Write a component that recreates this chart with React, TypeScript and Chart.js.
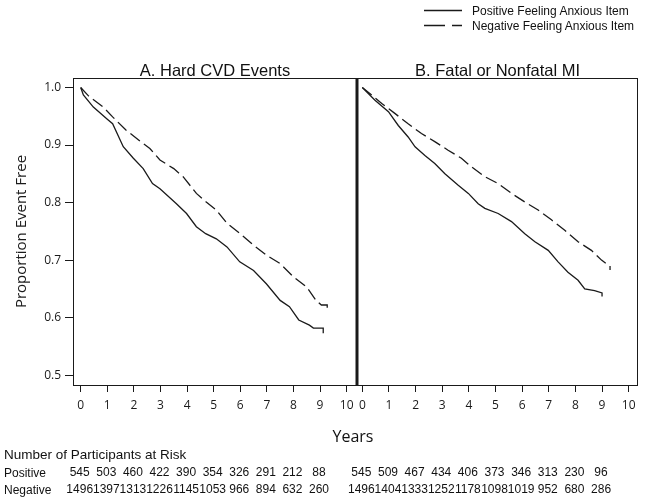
import React, { useEffect, useRef } from "react";
import { Chart, registerables } from "chart.js";
Chart.register(...registerables);

// ---------- data ----------
const years = [0, 1, 2, 3, 4, 5, 6, 7, 8, 9, 10];
const yTicks = [0.5, 0.6, 0.7, 0.8, 0.9, 1.0];
const riskYears = [0, 1, 2, 3, 4, 5, 6, 7, 8, 9];

// Panel A: Hard CVD Events
const hardPosT = [0, 0.1, 0.475, 1.0, 1.2, 1.6, 1.98, 2.35, 2.7, 2.98, 3.6, 3.98, 4.35, 4.7, 5.1, 5.5, 5.98, 6.5, 6.98, 7.5, 7.85, 8.2, 8.6, 8.75, 9.12, 9.12];
const hardPosS = [1.0, 0.987, 0.966, 0.945, 0.937, 0.897, 0.877, 0.859, 0.833, 0.824, 0.798, 0.781, 0.758, 0.746, 0.737, 0.723, 0.697, 0.682, 0.659, 0.630, 0.619, 0.596, 0.587, 0.582, 0.582, 0.573];
const hardNegT = [0, 0.3, 0.85, 1.2, 1.7, 2.2, 2.6, 2.98, 3.5, 3.85, 4.35, 4.72, 5.1, 5.5, 6.0, 6.5, 7.0, 7.5, 8.0, 8.5, 8.85, 9.05, 9.27, 9.27];
const hardNegS = [1.0, 0.985, 0.966, 0.949, 0.926, 0.908, 0.894, 0.874, 0.859, 0.845, 0.816, 0.801, 0.787, 0.764, 0.746, 0.726, 0.708, 0.694, 0.671, 0.653, 0.630, 0.622, 0.622, 0.610];

// Panel B: Fatal or Nonfatal MI
const miPosT = [0, 0.475, 0.98, 1.35, 1.72, 1.98, 2.35, 2.72, 3.1, 3.6, 3.98, 4.35, 4.6, 5.1, 5.6, 6.1, 6.48, 6.98, 7.35, 7.72, 8.1, 8.35, 8.72, 9.0, 9.0];
const miPosS = [1.0, 0.978, 0.958, 0.934, 0.914, 0.897, 0.882, 0.868, 0.850, 0.830, 0.816, 0.798, 0.790, 0.781, 0.767, 0.746, 0.732, 0.717, 0.697, 0.679, 0.665, 0.650, 0.647, 0.643, 0.637];
const miNegT = [0, 0.35, 0.73, 1.22, 1.72, 2.22, 2.72, 3.22, 3.72, 4.1, 4.6, 5.1, 5.6, 6.1, 6.6, 7.1, 7.6, 8.1, 8.6, 8.98, 9.15, 9.3, 9.3];
const miNegS = [1.0, 0.987, 0.972, 0.955, 0.937, 0.920, 0.906, 0.891, 0.877, 0.862, 0.845, 0.833, 0.816, 0.801, 0.787, 0.770, 0.752, 0.732, 0.717, 0.700, 0.694, 0.690, 0.683];

// Numbers at risk
const hardRiskPos = [545, 503, 460, 422, 390, 354, 326, 291, 212, 88];
const hardRiskNeg = [1496, 1397, 1313, 1226, 1145, 1053, 966, 894, 632, 260];
const miRiskPos = [545, 509, 467, 434, 406, 373, 346, 313, 230, 96];
const miRiskNeg = [1496, 1404, 1333, 1252, 1178, 1098, 1019, 952, 680, 286];

const panelTitles = ["A. Hard CVD Events", "B. Fatal or Nonfatal MI"];
const legendLabels = ["Positive Feeling Anxious Item", "Negative Feeling Anxious Item"];

// ---------- layout ----------
const W = 645;
const H = 499;
const TOP = 78;
const BOTTOM = 385;
const A_LEFT = 73;
const MID = 357;
const B_RIGHT = 638;
const Y_MIN = 0.483;
const Y_MAX = 1.0165;

const INK = "#1a1a1a";
const TICK_FONT = { family: '"Open Sans", sans-serif', size: 12 };

const toPts = (t: number[], s: number[]) => t.map((x, i) => ({ x, y: s[i] }));

function makeConfig(isA: boolean, posT: number[], posS: number[], negT: number[], negS: number[], riskPos: number[], riskNeg: number[]): any {
  const framePlugin = {
    id: "frame",
    afterDatasetsDraw(chart: any) {
      const { left, right, top, bottom } = chart.chartArea;
      const ctx = chart.ctx;
      ctx.save();
      ctx.strokeStyle = INK;
      ctx.lineWidth = 1;
      ctx.strokeRect(left + 0.5, top + 0.5, right - left - 1, bottom - top);
      if (isA) {
        ctx.fillStyle = INK;
        ctx.fillRect(right - 1.5, top, 3, bottom - top + 1);
      }
      ctx.restore();
    },
  };
  const riskPlugin = {
    id: "risk",
    afterDraw(chart: any) {
      const xs = chart.scales.x;
      const ctx = chart.ctx;
      ctx.save();
      ctx.font = '12px "Liberation Sans", Arial, sans-serif';
      ctx.textAlign = "center";
      ctx.textBaseline = "middle";
      ctx.fillStyle = "#111";
      riskYears.forEach((yr, i) => {
        const px = xs.getPixelForValue(yr) - 1;
        ctx.fillText(String(riskPos[i]), px, 473);
        ctx.fillText(String(riskNeg[i]), px, 490);
      });
      ctx.restore();
    },
  };
  return {
    type: "line",
    data: {
      datasets: [
        {
          label: legendLabels[0],
          data: toPts(posT, posS),
          borderColor: INK,
          borderWidth: 1.3,
          pointRadius: 0,
          fill: false,
          tension: 0,
        },
        {
          label: legendLabels[1],
          data: toPts(negT, negS),
          borderColor: INK,
          borderWidth: 1.3,
          borderDash: [12, 5],
          pointRadius: 0,
          fill: false,
          tension: 0,
        },
      ],
    },
    options: {
      responsive: false,
      animation: false,
      devicePixelRatio: 1,
      events: [],
      layout: {
        padding: isA
          ? { top: TOP, left: 0, right: W - MID, bottom: 0 }
          : { top: TOP, left: MID, right: W - B_RIGHT, bottom: 0 },
      },
      plugins: { legend: { display: false }, tooltip: { enabled: false }, title: { display: false } },
      scales: {
        x: {
          type: "linear",
          min: isA ? -0.29 : -0.2,
          max: isA ? 10.39 : 10.35,
          afterBuildTicks: (s: any) => {
            s.ticks = years.map((v) => ({ value: v }));
          },
          afterFit: (s: any) => {
            s.height = H - BOTTOM;
          },
          ticks: { font: TICK_FONT, color: INK, padding: 6, maxRotation: 0, autoSkip: false, callback: (v: any) => String(v) },
          grid: { drawOnChartArea: false, drawTicks: true, tickLength: 7, color: INK, lineWidth: 1 },
          border: { display: false },
        },
        y: {
          type: "linear",
          display: isA,
          min: Y_MIN,
          max: Y_MAX,
          afterBuildTicks: (s: any) => {
            s.ticks = yTicks.map((v) => ({ value: v }));
          },
          afterFit: (s: any) => {
            s.width = isA ? A_LEFT : 0;
          },
          ticks: { font: TICK_FONT, color: INK, padding: 4, callback: (v: any) => Number(v).toFixed(1) },
          grid: { drawOnChartArea: false, drawTicks: true, tickLength: 8, color: INK, lineWidth: 1 },
          border: { display: false },
          title: {
            display: isA,
            text: "Proportion Event Free",
            color: INK,
            font: { family: '"Open Sans", sans-serif', size: 15 },
            padding: { top: 13, bottom: 0 },
          },
        },
      },
    },
    plugins: [framePlugin, riskPlugin],
  };
}

export default function App() {
  const refA = useRef<HTMLCanvasElement>(null);
  const refB = useRef<HTMLCanvasElement>(null);

  useEffect(() => {
    const a = new Chart(refA.current as HTMLCanvasElement, makeConfig(true, hardPosT, hardPosS, hardNegT, hardNegS, hardRiskPos, hardRiskNeg));
    const b = new Chart(refB.current as HTMLCanvasElement, makeConfig(false, miPosT, miPosS, miNegT, miNegS, miRiskPos, miRiskNeg));
    return () => {
      a.destroy();
      b.destroy();
    };
  }, []);

  const arial = '"Liberation Sans", Arial, sans-serif';
  const abs: React.CSSProperties = { position: "absolute", whiteSpace: "nowrap", lineHeight: 1, color: "#111", fontFamily: arial };

  return (
    <div style={{ position: "absolute", left: 0, top: 0, width: W, height: H, background: "#fff", overflow: "hidden" }}>
      <canvas ref={refA} width={W} height={H} style={{ position: "absolute", left: 0, top: 0, width: W, height: H }} />
      <canvas ref={refB} width={W} height={H} style={{ position: "absolute", left: 0, top: 0, width: W, height: H }} />

      {/* legend */}
      <svg width={W} height={40} style={{ position: "absolute", left: 0, top: 0 }}>
        <line x1={424} y1={10.5} x2={462} y2={10.5} stroke={INK} strokeWidth={1.3} />
        <line x1={424} y1={25.5} x2={462} y2={25.5} stroke={INK} strokeWidth={1.3} strokeDasharray="21 7" />
      </svg>
      <div style={{ ...abs, left: 472, top: 10.5, fontSize: 12, transform: "translateY(-50%)" }}>{legendLabels[0]}</div>
      <div style={{ ...abs, left: 472, top: 25.5, fontSize: 12, transform: "translateY(-50%)" }}>{legendLabels[1]}</div>

      {/* panel titles */}
      <div style={{ ...abs, left: (A_LEFT + MID) / 2, top: 70, fontSize: 16.5, transform: "translate(-50%, -50%)" }}>{panelTitles[0]}</div>
      <div style={{ ...abs, left: (MID + B_RIGHT) / 2, top: 70, fontSize: 16.5, transform: "translate(-50%, -50%)" }}>{panelTitles[1]}</div>

      {/* x axis title */}
      <div style={{ ...abs, left: 353, top: 436, fontSize: 16, fontFamily: '"Open Sans", sans-serif', transform: "translate(-50%, -50%)" }}>Years</div>

      {/* at-risk table labels */}
      <div style={{ ...abs, left: 4, top: 455, fontSize: 13.5, transform: "translateY(-50%)" }}>Number of Participants at Risk</div>
      <div style={{ ...abs, left: 4, top: 473, fontSize: 12, transform: "translateY(-50%)" }}>Positive</div>
      <div style={{ ...abs, left: 4, top: 490, fontSize: 12, transform: "translateY(-50%)" }}>Negative</div>
    </div>
  );
}
